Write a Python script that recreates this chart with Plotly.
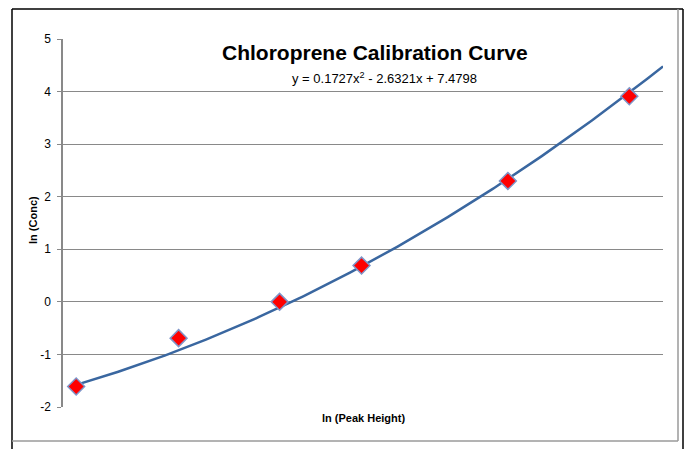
import plotly.graph_objects as go

# Data
ln_peak_height = [9.99, 10.69, 11.38, 11.94, 12.94, 13.77]
ln_conc = [-1.61, -0.69, 0.0, 0.69, 2.30, 3.91]

# Displayed polynomial trendline coefficients
coef_a, coef_b, coef_c = 0.1727, -2.6321, 7.4798
x_min, x_max = 9.9, 14.0
y_ticks = [-2, -1, 0, 1, 2, 3, 4, 5]
y_tick_labels = ["-2", "-1", "0", "1", "2", "3", "4", "5"]

n = 200
trend_x = [ln_peak_height[0] + (x_max - ln_peak_height[0]) * i / (n - 1) for i in range(n)]
trend_y = [coef_a * x * x + coef_b * x + coef_c for x in trend_x]

FONT = "Liberation Sans"

fig = go.Figure()
fig.add_trace(go.Scatter(x=trend_x, y=trend_y, mode="lines",
                         line=dict(color="#3A67A0", width=2.5), hoverinfo="skip"))
fig.add_trace(go.Scatter(x=ln_peak_height, y=ln_conc, mode="markers",
                         marker=dict(symbol="diamond", size=13, color="#FF0000",
                                     line=dict(color="#7F95C8", width=1.5))))

L, R, T, B = 63, 25, 39, 42
W, H = 688, 449
pw, ph = W - L - R, H - T - B

def px(xp):
    return (xp - L) / pw

def py(yp):
    return (H - B - yp) / ph

shapes = []
for (x0, y0, x1, y1, c, w) in [
    (12, 9, 683, 9, "#000000", 1.5),
    (12, 9, 12, 449, "#000000", 1.5),
    (683, 9, 683, 449, "#000000", 1.5),
    (12, 441, 678, 441, "#9A9A9A", 1.5),
    (678, 9, 678, 441, "#9A9A9A", 1.5),
]:
    shapes.append(dict(type="line", xref="paper", yref="paper",
                       x0=px(x0), y0=py(y0), x1=px(x1), y1=py(y1),
                       line=dict(color=c, width=w)))

def ann(text, x, y, size, angle=0):
    return dict(text=text, xref="paper", yref="paper", x=px(x), y=py(y),
                xanchor="center", yanchor="middle", textangle=angle,
                showarrow=False, font=dict(size=size, family=FONT, color="#000000"))

fig.update_layout(
    width=W, height=H,
    margin=dict(l=L, r=R, t=T, b=B),
    paper_bgcolor="white", plot_bgcolor="white",
    showlegend=False,
    font=dict(family=FONT, color="#000000"),
    shapes=shapes,
    annotations=[
        ann("<b>Chloroprene Calibration Curve</b>", 375, 53, 21),
        ann("y = 0.1727x<sup>2</sup> - 2.6321x + 7.4798", 384, 78, 13),
        ann("<b>ln (Peak Height)</b>", 363, 418, 11),
        ann("<b>ln (Conc)</b>", 33, 220, 11, -90),
    ],
    xaxis=dict(range=[x_min, x_max], showticklabels=False, ticks="", showgrid=False,
               zeroline=False, showline=False, automargin=False),
    yaxis=dict(range=[-2, 5], tickvals=y_ticks, ticktext=y_tick_labels,
               ticks="outside", ticklen=4, tickcolor="#898989",
               showgrid=True, gridcolor="#898989", gridwidth=1, zeroline=False,
               showline=True, linecolor="#898989", linewidth=1.5, automargin=False,
               ticklabelstandoff=4,
               tickfont=dict(size=12, family=FONT, color="#000000")),
)

fig.write_html("out.html", config={"displayModeBar": False},
               post_script="document.body.style.margin='0px';")
